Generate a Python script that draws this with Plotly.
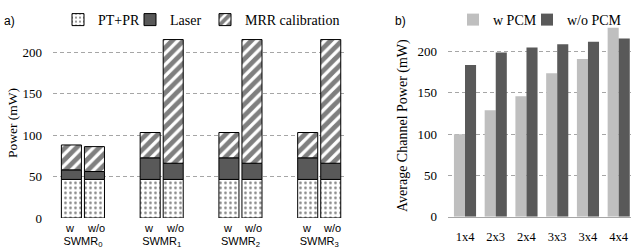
import plotly.graph_objects as go

# ---------------- data ----------------
groups = ["SWMR0", "SWMR1", "SWMR2", "SWMR3"]
group_labels = ["SWMR<sub>0</sub>", "SWMR<sub>1</sub>", "SWMR<sub>2</sub>", "SWMR<sub>3</sub>"]
variants = ["w", "w/o"]
pt_pr_w = [46.5, 46.5, 46.5, 46.5]
laser_w = [11.5, 26.0, 26.0, 26.0]
mrr_w = [30.0, 30.5, 30.5, 30.5]
pt_pr_wo = [46.5, 46.5, 46.5, 46.5]
laser_wo = [9.5, 19.5, 19.5, 19.5]
mrr_wo = [30.0, 149.0, 149.0, 149.0]

sizes = ["1x4", "2x3", "2x4", "3x3", "3x4", "4x4"]
w_pcm = [100, 129, 146, 174, 191, 229]
wo_pcm = [184, 199, 205, 209, 212, 216]

W, H = 631, 248
def px(x):
    return x / W
def py(y):
    return (H - y) / H

SERIF = "Liberation Serif, Times New Roman, Times, serif"
SANS = "Liberation Sans, Arial, sans-serif"
DOTS = dict(shape=".", fgcolor="black", bgcolor="white", size=5, solidity=0.22, fillmode="overlay")
STRIPES = dict(shape="/", fgcolor="black", bgcolor="white", size=8, solidity=0.6, fillmode="overlay")
DARK = "#595959"
LIGHT = "#bfbfbf"

fig = go.Figure()

def stack(series_a, series_b):
    return [a + b for a, b in zip(series_a, series_b)]

legend_ids = {"PT+PR": "legend", "Laser": "legend3", "MRR calibration": "legend4"}
sets = [
    ("w", pt_pr_w, laser_w, mrr_w, True),
    ("wo", pt_pr_wo, laser_wo, mrr_wo, False),
]
for og, pt, la, mr, show in sets:
    fig.add_trace(go.Bar(x=groups, y=pt, base=[0] * len(pt), offsetgroup=og, name="PT+PR",
                         marker=dict(color="white", pattern=DOTS, line=dict(color="black", width=1)),
                         showlegend=show, legend=legend_ids["PT+PR"], xaxis="x", yaxis="y"))
    fig.add_trace(go.Bar(x=groups, y=la, base=pt, offsetgroup=og, name="Laser",
                         marker=dict(color=DARK, line=dict(color="black", width=1)),
                         showlegend=show, legend=legend_ids["Laser"], xaxis="x", yaxis="y"))
    fig.add_trace(go.Bar(x=groups, y=mr, base=stack(pt, la), offsetgroup=og, name="MRR calibration",
                         marker=dict(color="white", pattern=STRIPES, line=dict(color="black", width=1)),
                         showlegend=show, legend=legend_ids["MRR calibration"], xaxis="x", yaxis="y"))

BW = 0.36
fig.add_trace(go.Bar(x=sizes, y=w_pcm, name="w PCM", marker=dict(color=LIGHT, line=dict(width=0)),
                     width=BW, offset=-BW, legend="legend2", xaxis="x2", yaxis="y2"))
fig.add_trace(go.Bar(x=sizes, y=wo_pcm, name="w/o PCM", marker=dict(color=DARK, line=dict(width=0)),
                     width=BW, offset=0, legend="legend5", xaxis="x2", yaxis="y2"))

grid = dict(showgrid=True, gridcolor="#a6a6a6", griddash="4px,3px", gridwidth=1, zeroline=False)

annotations = []
for g in groups:
    for v, sh in zip(variants, [-13, 13]):
        annotations.append(dict(x=g, y=0, xref="x", yref="y", text=v, showarrow=False,
                                xshift=sh, yshift=-2, yanchor="top",
                                font=dict(family=SANS, size=11, color="black")))
annotations += [
    dict(x=px(2), y=py(12), xref="paper", yref="paper", text="a)", showarrow=False,
         xanchor="left", font=dict(family=SANS, size=12, color="black")),
    dict(x=px(393), y=py(12), xref="paper", yref="paper", text="b)", showarrow=False,
         xanchor="left", font=dict(family=SANS, size=12, color="black")),
    dict(x=px(12), y=py(123), xref="paper", yref="paper", text="Power (mW)", textangle=-90,
         showarrow=False, xanchor="center", yanchor="middle",
         font=dict(family=SERIF, size=13.5, color="black")),
    dict(x=px(403), y=py(125), xref="paper", yref="paper", text="Average Channel Power (mW)",
         textangle=-90, showarrow=False, xanchor="center", yanchor="middle",
         font=dict(family=SERIF, size=14, color="black")),
]

def leg(x):
    return dict(orientation="h", x=px(x), y=py(4), xanchor="left", yanchor="top",
                font=dict(family=SERIF, size=14), bgcolor="rgba(0,0,0,0)", itemwidth=30)

fig.update_layout(
    width=W, height=H, autosize=False, margin=dict(l=0, r=0, t=0, b=0),
    paper_bgcolor="white", plot_bgcolor="white",
    barmode="group", bargap=0.415, bargroupgap=0.13,
    font=dict(family=SERIF, size=12, color="black"),
    xaxis=dict(domain=[px(53), px(346)], range=[-0.38, 3.34], tickvals=groups, ticktext=group_labels,
               showgrid=False, zeroline=False, showline=False, ticks="", automargin=False,
               tickfont=dict(family=SANS, size=11), ticklabelstandoff=15),
    yaxis=dict(domain=[py(218), py(35.4)], range=[0, 220], tickvals=[0, 50, 100, 150, 200],
               ticks="", showline=False, automargin=False,
               tickfont=dict(family=SERIF, size=13), ticklabelstandoff=10, **grid),
    xaxis2=dict(domain=[px(448), 1.0], range=[-0.553, 5.4], showgrid=False, zeroline=False,
                showline=True, linecolor="#a6a6a6", linewidth=1.5, ticks="", automargin=False,
                tickfont=dict(family=SERIF, size=12.5), ticklabelstandoff=8, anchor="y2"),
    yaxis2=dict(domain=[py(216.7), py(22.8)], range=[0, 235], tickvals=[0, 50, 100, 150, 200],
                ticks="", showline=False, automargin=False,
                tickfont=dict(family=SERIF, size=13), ticklabelstandoff=10,
                anchor="x2", **grid),
    legend=leg(58), legend3=leg(130), legend4=leg(205),
    legend2=leg(453), legend5=leg(527),
    annotations=annotations,
)

fig.write_html("out.html",
               config={"responsive": False, "displayModeBar": False, "staticPlot": True},
               post_script="document.body.style.margin='0';document.body.style.overflow='hidden';")
